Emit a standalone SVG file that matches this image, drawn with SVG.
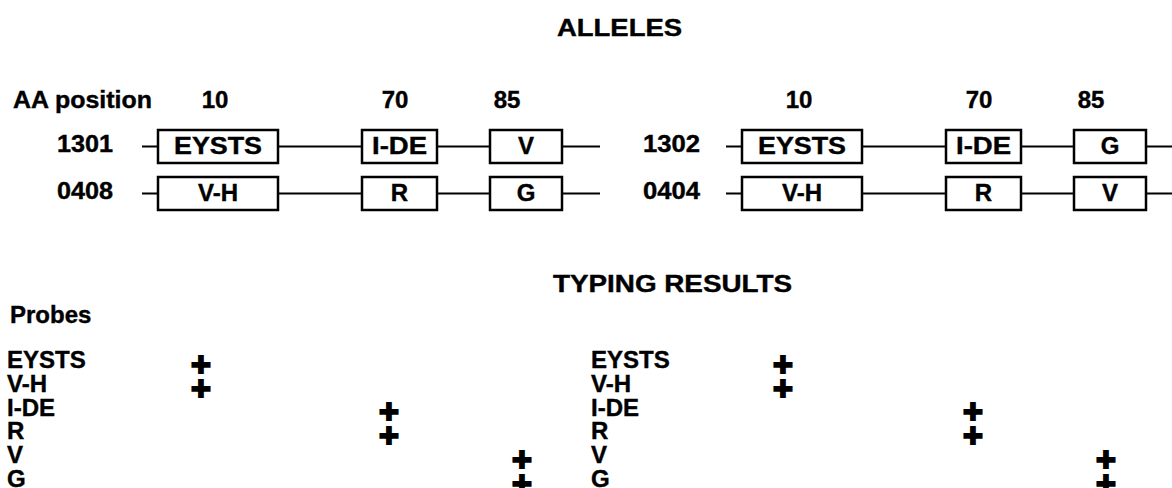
<svg xmlns="http://www.w3.org/2000/svg" width="1172" height="488" viewBox="0 0 1172 488">
<style>
text{font-family:"Liberation Sans",Arial,Helvetica,sans-serif;font-weight:bold;fill:#000;stroke:#000;stroke-width:0.4}
.t{font-size:24px}
.bx{fill:#fff;stroke:#000;stroke-width:2.5}
.ln{stroke:#000;stroke-width:2;fill:none}
.bt{font-size:24px;text-anchor:middle}
.num{font-size:24px;text-anchor:middle}
.pl{font-size:34px;text-anchor:middle;stroke-width:2}
</style>
<rect width="1172" height="488" fill="#fff"/>
<g id="titles">
<text class="t" x="557" y="36" font-size="26" textLength="125" lengthAdjust="spacingAndGlyphs">ALLELES</text>
<text class="t" x="553" y="292" textLength="239" lengthAdjust="spacingAndGlyphs">TYPING RESULTS</text>
<text class="t" x="13" y="108" textLength="139" lengthAdjust="spacingAndGlyphs">AA position</text>
<text class="num" x="215" y="108">10</text>
<text class="num" x="395" y="108">70</text>
<text class="num" x="507" y="108">85</text>
<text class="num" x="799" y="108">10</text>
<text class="num" x="979" y="108">70</text>
<text class="num" x="1091" y="108">85</text>
<text class="t" x="57" y="152" textLength="56" lengthAdjust="spacingAndGlyphs">1301</text>
<text class="t" x="57" y="199" textLength="56" lengthAdjust="spacingAndGlyphs">0408</text>
<text class="t" x="643" y="152" textLength="57" lengthAdjust="spacingAndGlyphs">1302</text>
<text class="t" x="643" y="199" textLength="57" lengthAdjust="spacingAndGlyphs">0404</text>
</g>
<g id="connectors">
<path class="ln" d="M142 146.5H158M278 146.5H362M437 146.5H490M562 146.5H600"/>
<path class="ln" d="M142 193.5H158M278 193.5H362M437 193.5H490M562 193.5H600"/>
<path class="ln" d="M726 146.5H742M862 146.5H946M1021 146.5H1074M1146 146.5H1172"/>
<path class="ln" d="M726 193.5H742M862 193.5H946M1021 193.5H1074M1146 193.5H1172"/>
</g>
<g id="n1301-EYSTS"><rect class="bx" x="158" y="130" width="120" height="33"/><text class="bt" x="218" y="154" textLength="88" lengthAdjust="spacingAndGlyphs">EYSTS</text></g>
<g id="n1301-IDE"><rect class="bx" x="362" y="130" width="75" height="33"/><text class="bt" x="399.5" y="154" textLength="55" lengthAdjust="spacingAndGlyphs">I-DE</text></g>
<g id="n1301-V"><rect class="bx" x="490" y="130" width="72" height="33"/><text class="bt" x="526" y="154">V</text></g>
<g id="n0408-VH"><rect class="bx" x="158" y="177" width="120" height="33"/><text class="bt" x="218" y="201">V-H</text></g>
<g id="n0408-R"><rect class="bx" x="362" y="177" width="75" height="33"/><text class="bt" x="399.5" y="201">R</text></g>
<g id="n0408-G"><rect class="bx" x="490" y="177" width="72" height="33"/><text class="bt" x="526" y="201">G</text></g>
<g id="n1302-EYSTS"><rect class="bx" x="742" y="130" width="120" height="33"/><text class="bt" x="802" y="154" textLength="88" lengthAdjust="spacingAndGlyphs">EYSTS</text></g>
<g id="n1302-IDE"><rect class="bx" x="946" y="130" width="75" height="33"/><text class="bt" x="983.5" y="154" textLength="55" lengthAdjust="spacingAndGlyphs">I-DE</text></g>
<g id="n1302-G"><rect class="bx" x="1074" y="130" width="72" height="33"/><text class="bt" x="1110" y="154">G</text></g>
<g id="n0404-VH"><rect class="bx" x="742" y="177" width="120" height="33"/><text class="bt" x="802" y="201">V-H</text></g>
<g id="n0404-R"><rect class="bx" x="946" y="177" width="75" height="33"/><text class="bt" x="983.5" y="201">R</text></g>
<g id="n0404-V"><rect class="bx" x="1074" y="177" width="72" height="33"/><text class="bt" x="1110" y="201">V</text></g>
<g id="probes-left">
<text class="t" x="10" y="323">Probes</text>
<text class="t" x="7" y="368">EYSTS</text>
<text class="t" x="7" y="391.8">V-H</text>
<text class="t" x="7" y="415.6">I-DE</text>
<text class="t" x="7" y="439.4">R</text>
<text class="t" x="7" y="463.2">V</text>
<text class="t" x="7" y="487">G</text>
<text class="pl" x="201" y="375.5">+</text>
<text class="pl" x="201" y="399.5">+</text>
<text class="pl" x="389" y="423">+</text>
<text class="pl" x="389" y="447">+</text>
<text class="pl" x="522" y="471">+</text>
<text class="pl" x="522" y="495">+</text>
</g>
<g id="probes-right">
<text class="t" x="591" y="368">EYSTS</text>
<text class="t" x="591" y="391.8">V-H</text>
<text class="t" x="591" y="415.6">I-DE</text>
<text class="t" x="591" y="439.4">R</text>
<text class="t" x="591" y="463.2">V</text>
<text class="t" x="591" y="487">G</text>
<text class="pl" x="783" y="375.5">+</text>
<text class="pl" x="783" y="399.5">+</text>
<text class="pl" x="973" y="423">+</text>
<text class="pl" x="973" y="447">+</text>
<text class="pl" x="1106" y="471">+</text>
<text class="pl" x="1106" y="495">+</text>
</g>
</svg>
